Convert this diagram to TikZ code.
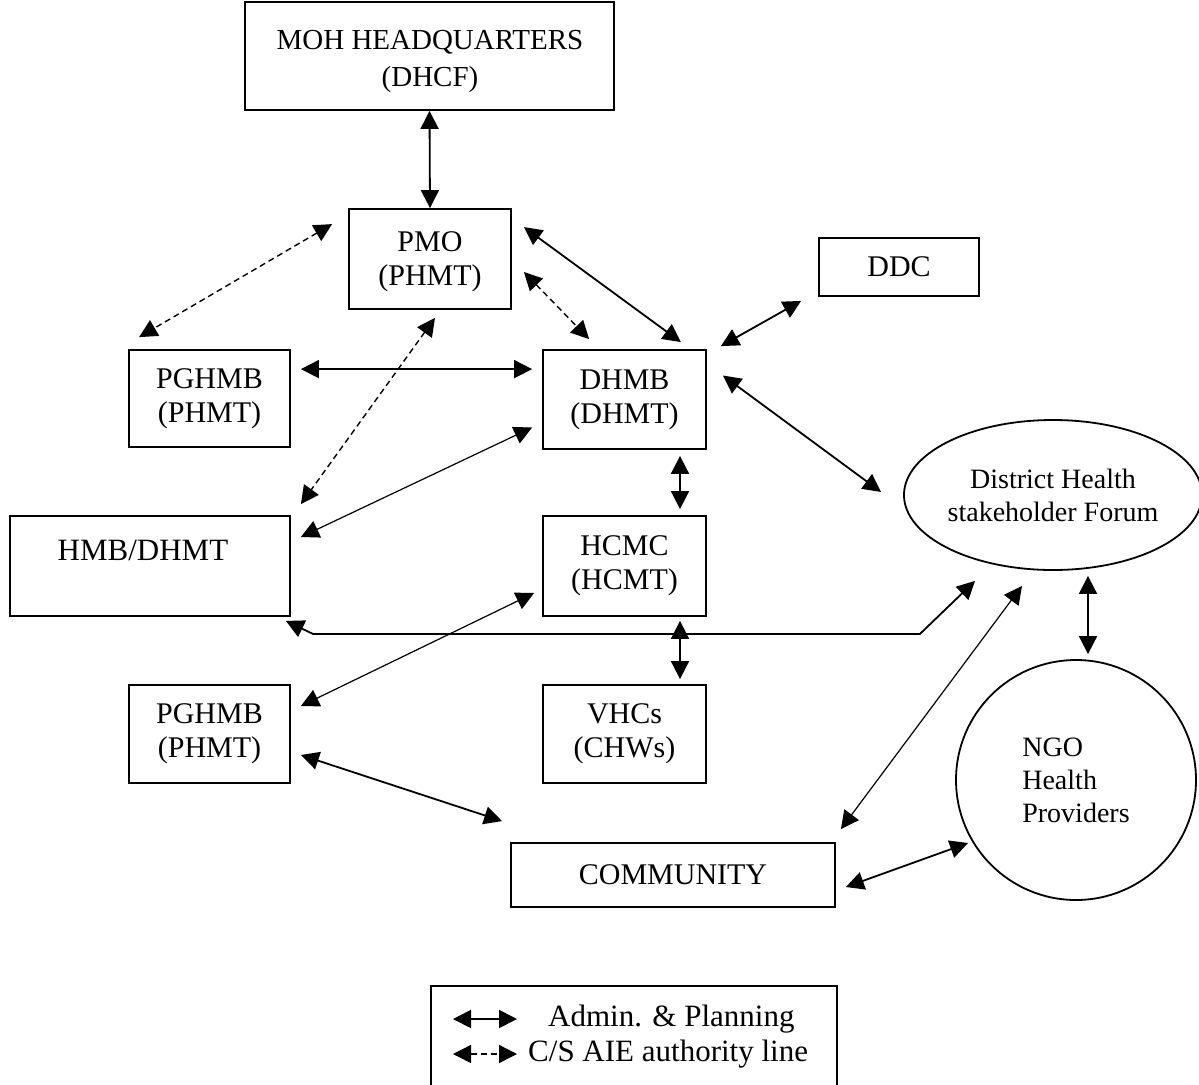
\documentclass[tikz,border=0pt]{standalone}
\usepackage{fontspec}
\setmainfont{Liberation Serif}
\usetikzlibrary{arrows.meta,calc,shapes.geometric}
\tikzset{
  box/.style={draw,line width=1.8pt,rectangle,inner sep=0pt,align=center,font=\fontsize{30}{34}\selectfont},
  lbl/.style={inner sep=0pt,align=center,font=\fontsize{30}{34}\selectfont},
  both/.style={{Triangle[length=18pt,width=18pt]}-{Triangle[length=18pt,width=18pt]},line width=1.8pt},
  thinboth/.style={{Triangle[length=18pt,width=18pt]}-{Triangle[length=18pt,width=18pt]},line width=1.2pt},
  dashboth/.style={{Triangle[length=18pt,width=18pt]}-{Triangle[length=18pt,width=18pt]},line width=1.4pt,dash pattern=on 6pt off 4pt},
}
\begin{document}
\begin{tikzpicture}[x=1pt,y=-1pt]
\useasboundingbox[fill=white] (0,0) rectangle (1199,1084);
% nodes
\node[box,minimum width=369pt,minimum height=108pt] (moh) at (429.5,56) {};
\node[lbl,font=\fontsize{29}{37}\selectfont] (moht) at (430,61) {MOH HEADQUARTERS\\(DHCF)};
\node[box,minimum width=162pt,minimum height=100pt] (pmo) at (430,259) {};
\node[lbl] (pmot) at (430,262) {PMO\\(PHMT)};
\node[box,minimum width=160pt,minimum height=58pt] (ddc) at (899,267) {DDC};
\node[box,minimum width=161pt,minimum height=97pt] (pg1) at (209.5,398.5) {PGHMB\\(PHMT)};
\node[box,minimum width=163pt,minimum height=99pt] (dhmb) at (624.5,399.5) {DHMB\\(DHMT)};
\node[box,minimum width=280pt,minimum height=100pt] (hmb) at (150,566) {};
\node[lbl,font=\fontsize{31}{34}\selectfont] (hmbt) at (143,550) {HMB/DHMT};
\node[box,minimum width=163pt,minimum height=100pt] (hcmc) at (624.5,566) {HCMC\\(HCMT)};
\node[box,minimum width=163pt,minimum height=98pt] (vhc) at (624.5,734) {VHCs\\(CHWs)};
\node[box,minimum width=161pt,minimum height=98pt] (pg2) at (209.5,734) {PGHMB\\(PHMT)};
\node[box,minimum width=324pt,minimum height=64pt] (comm) at (673,875) {COMMUNITY};
\node[draw,line width=1.8pt,ellipse,inner sep=0pt,minimum width=292pt,minimum height=150pt,align=center,font=\fontsize{28}{33}\selectfont] (forum) at (1053,495) {District Health\\stakeholder Forum};
\node[draw,line width=1.8pt,circle,inner sep=0pt,minimum size=240pt,align=left,font=\fontsize{28}{33}\selectfont] (ngo) at (1076,780) {NGO\\Health\\Providers};
% connectors
\draw[both] (moh.south) -- (pmo.north);
\draw[dashboth] ($(pmo.north west)+(-16,16)$) -- ($(pg1.north west)+(11,-12)$);
\draw[both] ($(pmo.north east)+(12,19)$) -- ($(dhmb.north east)+(-26,-7)$);
\draw[dashboth] ($(pmo.east)+(12,13)$) -- ($(dhmb.north west)+(47,-10)$);
\draw[dashboth] ($(pmo.south)+(5,8)$) -- ($(hmb.north east)+(10,-11)$);
\draw[both] ($(pg1.north east)+(10,20)$) -- ($(dhmb.north west)+(-10,20)$);
\draw[both] ($(ddc.south west)+(-17,4)$) -- ($(dhmb.north east)+(14,-3)$);
\draw[both] ($(dhmb.east)+(16,-24)$) -- ($(forum.west)+(-22,-3)$);
\draw[thinboth] ($(dhmb.west)+(-10,28)$) -- ($(hmb.east)+(10,-29)$);
\draw[both] ($(dhmb.south)+(55.5,6)$) -- ($(hcmc.north)+(55.5,-6)$);
\draw[both] ($(hcmc.south)+(55.5,4)$) -- ($(vhc.north)+(55.5,-5)$);
\draw[thinboth] ($(hcmc.west)+(-8,27)$) -- ($(pg2.east)+(10,-28)$);
\draw[both] ($(hmb.south east)+(-5,4)$) -- ($(hmb.south east)+(22,17)$) -- ($(forum.south)+(-133,63)$) -- ($(forum.south)+(-78,10)$);
\draw[both] ($(forum.south)+(35,5)$) -- ($(ngo.north)+(12,-5)$);
\draw[both] ($(pg2.east)+(10,21)$) -- ($(comm.north west)+(-8,-21)$);
\draw[thinboth] ($(comm.north east)+(5,-13)$) -- ($(forum.south)+(-31,15)$);
\draw[both] ($(comm.east)+(10,12)$) -- ($(ngo.center)+(-108,63)$);
% legend
\node[draw,line width=1.8pt,rectangle,minimum width=406pt,minimum height=110pt,anchor=north west,inner sep=0pt] (leg) at (430,985) {};
\coordinate (la1) at ($(leg.north west)+(23,34)$);
\coordinate (la2) at ($(leg.north west)+(87,34)$);
\coordinate (lb1) at ($(leg.north west)+(23,69)$);
\coordinate (lb2) at ($(leg.north west)+(87,69)$);
\draw[both] (la1) -- (la2);
\draw[dashboth] (lb1) -- (lb2);
\node[anchor=west,inner sep=0pt,font=\fontsize{31}{34}\selectfont] (lt1) at ($(leg.north west)+(118,34)$) {Admin. \& Planning};
\node[anchor=west,inner sep=0pt,font=\fontsize{31}{34}\selectfont] (lt2) at ($(leg.north west)+(98,69)$) {C/S AIE authority line};
\end{tikzpicture}
\end{document}
